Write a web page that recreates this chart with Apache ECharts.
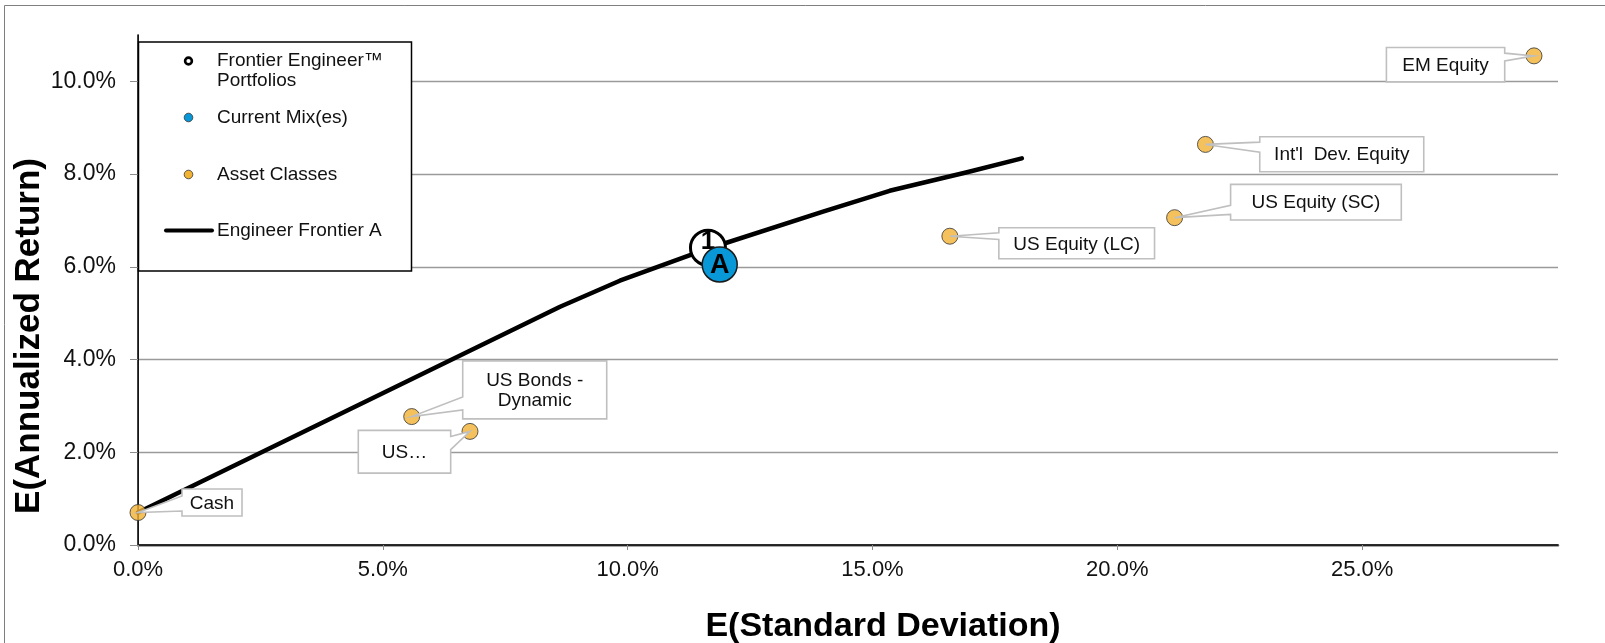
<!DOCTYPE html>
<html>
<head>
<meta charset="utf-8">
<script src="https://cdn.jsdelivr.net/npm/echarts@6/dist/echarts.min.js"></script>
<style>
  html, body { margin: 0; padding: 0; background: #fff; }
  #chart { width: 1605px; height: 643px; }
</style>
</head>
<body>
<div id="chart"></div>
<script>
// Asset classes: expected risk (std. dev., %) and expected return (%)
const assetNames = ['Cash', 'US Bonds -\nDynamic', 'US\u2026', 'US Equity (LC)', 'US Equity (SC)', "Int'l  Dev. Equity", 'EM Equity'];
const assetRisk = [0.00, 5.59, 6.78, 16.58, 21.17, 21.80, 28.51];
const assetReturn = [0.70, 2.77, 2.45, 6.66, 7.06, 8.64, 10.55];

// Engineer Frontier A (risk %, return %)
const frontierRisk = [0.00, 8.62, 9.84, 11.64, 13.99, 15.35, 16.93, 18.05];
const frontierReturn = [0.70, 5.14, 5.70, 6.39, 7.19, 7.64, 8.04, 8.34];

// Frontier Engineer portfolio(s)
const portfolioLabels = ['1'];
const portfolioRisk = [11.64];
const portfolioReturn = [6.41];

// Current mix(es)
const currentLabels = ['A'];
const currentRisk = [11.88];
const currentReturn = [6.05];

// Axis ranges (%)
const xMax = 29, xStep = 5;
const yMax = 11, yStep = 2;

const FONT = '"Liberation Sans", Arial, sans-serif';
const ORANGE = '#F2B233';
const BLUE = '#0898D8';

// Callout boxes for the asset labels: offset of the box from the marker (px),
// box size, which side carries the pointer, and where the pointer meets that side.
const calloutBoxes = [
  { dx: 44, dy: -23.5, w: 60, h: 27, side: 'left', a: 7, b: 22 },
  { dx: 51, dy: -55.7, w: 144, h: 58, side: 'left', a: 36, b: 49 },
  { dx: -111.7, dy: -1, w: 92.4, h: 42.7, side: 'right', a: 6, b: 19.3 },
  { dx: 49, dy: -8.4, w: 155.7, h: 31, side: 'left', a: 5, b: 11.7 },
  { dx: 56, dy: -33.3, w: 170.7, h: 35.7, side: 'left', a: 21, b: 30 },
  { dx: 54.3, dy: -7.7, w: 164, h: 35, side: 'left', a: 5.4, b: 15.4 },
  { dx: -147.6, dy: -8.4, w: 118.3, h: 34.4, side: 'right', a: 5.7, b: 13.4 }
];

const zip = (xs, ys) => xs.map((x, i) => [x, ys[i]]);
const pct = v => v.toFixed(1) + '%';

const chart = echarts.init(document.getElementById('chart'), null, { renderer: 'canvas' });

// Legend box drawn on top of the plot
const LZ = 100;
const legendText = (y, text) => ({
  type: 'text', x: 217, y: y, z: LZ + 2,
  style: { text: text, font: '19px ' + FONT, fill: '#111', verticalAlign: 'middle' }
});
const legendItems = [
  { type: 'rect', z: LZ, shape: { x: 138.5, y: 42, width: 273, height: 229 }, style: { fill: '#fff', stroke: '#000', lineWidth: 1.5 } },
  { type: 'circle', z: LZ + 1, shape: { cx: 188.5, cy: 61, r: 3.4 }, style: { fill: '#fff', stroke: '#000', lineWidth: 2.6 } },
  { type: 'circle', z: LZ + 1, shape: { cx: 188.5, cy: 117.5, r: 4.3 }, style: { fill: BLUE, stroke: '#333', lineWidth: 0.8 } },
  { type: 'circle', z: LZ + 1, shape: { cx: 188.5, cy: 174.5, r: 4.3 }, style: { fill: ORANGE, stroke: '#333', lineWidth: 0.8 } },
  { type: 'line', z: LZ + 1, shape: { x1: 166, y1: 230.5, x2: 212, y2: 230.5 }, style: { stroke: '#000', lineWidth: 4, lineCap: 'round' } },
  legendText(61, 'Frontier Engineer\u2122'),
  legendText(81, 'Portfolios'),
  legendText(117.5, 'Current Mix(es)'),
  legendText(174.5, 'Asset Classes'),
  legendText(230.5, 'Engineer Frontier A')
];

const option = {
  backgroundColor: '#fff',
  animation: false,
  textStyle: { fontFamily: FONT },
  grid: { left: 138, right: 47, top: 35, bottom: 98, containLabel: false },
  xAxis: [
    {
      type: 'value', min: 0, max: xMax, interval: xStep,
      axisLine: { show: true, onZero: false, lineStyle: { color: '#8c8c8c', width: 2.5 } },
      axisTick: { show: true, length: 5, lineStyle: { color: '#8c8c8c', width: 1 } },
      axisLabel: { formatter: pct, fontSize: 22, color: '#111', margin: 14, fontFamily: FONT, showMaxLabel: false },
      splitLine: { show: false }
    },
    {
      type: 'value', position: 'top', min: 0, max: xMax,
      axisLine: { show: true, lineStyle: { color: '#000', width: 1.5 } },
      axisTick: { show: false }, axisLabel: { show: false }, splitLine: { show: false }
    }
  ],
  yAxis: [
    {
      type: 'value', min: 0, max: yMax, interval: yStep,
      axisLine: { show: true, onZero: false, lineStyle: { color: '#595959', width: 1 } },
      axisTick: { show: true, length: 8, lineStyle: { color: '#8c8c8c', width: 1 } },
      axisLabel: { formatter: pct, fontSize: 23, color: '#111', margin: 22, fontFamily: FONT, showMaxLabel: false },
      splitLine: { show: true, showMinLine: false, showMaxLine: false, lineStyle: { color: '#9a9a9a', width: 1.3 } }
    },
    {
      type: 'value', position: 'right', min: 0, max: yMax,
      axisLine: { show: true, lineStyle: { color: '#000', width: 1.5 } },
      axisTick: { show: false }, axisLabel: { show: false }, splitLine: { show: false }
    }
  ],
  series: [
    {
      name: 'Engineer Frontier A',
      type: 'line',
      data: zip(frontierRisk, frontierReturn),
      showSymbol: false,
      symbol: 'none',
      lineStyle: { color: '#000', width: 4.5, cap: 'round', join: 'round' },
      z: 2
    },
    {
      name: 'Asset Classes',
      type: 'scatter',
      data: zip(assetRisk, assetReturn),
      symbolSize: 16,
      itemStyle: { color: ORANGE, borderColor: '#333', borderWidth: 1 },
      z: 3
    },
    {
      name: 'Asset Callouts',
      type: 'custom',
      data: zip(assetRisk, assetReturn),
      encode: { x: 0, y: 1 },
      z: 4,
      silent: true,
      renderItem: function (params, api) {
        const i = params.dataIndex;
        const p = api.coord([api.value(0), api.value(1)]);
        const c = calloutBoxes[i];
        const x0 = p[0] + c.dx, y0 = p[1] + c.dy;
        const x1 = x0 + c.w, y1 = y0 + c.h;
        let pts;
        if (c.side === 'left') {
          pts = [[x0, y0], [x1, y0], [x1, y1], [x0, y1], [x0, y0 + c.b], [p[0], p[1]], [x0, y0 + c.a]];
        } else {
          pts = [[x0, y0], [x1, y0], [x1, y0 + c.a], [p[0], p[1]], [x1, y0 + c.b], [x1, y1], [x0, y1]];
        }
        return {
          type: 'group',
          children: [
            { type: 'polygon', shape: { points: pts }, style: { fill: '#fff', stroke: '#bfbfbf', lineWidth: 1.6 } },
            {
              type: 'text', x: (x0 + x1) / 2, y: (y0 + y1) / 2 + 1,
              style: { text: assetNames[i], fill: '#111', font: '19px ' + FONT, align: 'center', verticalAlign: 'middle', lineHeight: 20 }
            }
          ]
        };
      }
    },
    {
      name: 'Frontier Engineer\u2122 Portfolios',
      type: 'scatter',
      data: zip(portfolioRisk, portfolioReturn),
      symbolSize: 35,
      itemStyle: { color: '#fff', borderColor: '#000', borderWidth: 3, opacity: 1 },
      label: {
        show: true, position: 'inside', offset: [0, -6],
        formatter: p => portfolioLabels[p.dataIndex],
        fontSize: 26, fontWeight: 'bold', color: '#000', fontFamily: FONT,
        textBorderWidth: 0
      },
      z: 5
    },
    {
      name: 'Current Mix(es)',
      type: 'scatter',
      data: zip(currentRisk, currentReturn),
      symbolSize: 35,
      itemStyle: { color: BLUE, borderColor: '#1a1a1a', borderWidth: 1.5, opacity: 1 },
      label: {
        show: true, position: 'inside', offset: [0, 1],
        formatter: p => currentLabels[p.dataIndex],
        fontSize: 27, fontWeight: 'bold', color: '#000', fontFamily: FONT,
        textBorderWidth: 0
      },
      z: 6
    }
  ],
  graphic: [
    // outer frame
    { type: 'rect', shape: { x: 4.5, y: 5.5, width: 1700, height: 800 }, style: { fill: null, stroke: '#7f7f7f', lineWidth: 1 }, z: 0, silent: true },
    // axis titles
    {
      type: 'text', x: 29, y: 336, rotation: Math.PI / 2, z: 10,
      style: { text: 'E(Annualized Return)', font: 'bold 35px ' + FONT, fill: '#000', align: 'center', verticalAlign: 'middle' }
    },
    {
      type: 'text', x: 883, y: 627, z: 10,
      style: { text: 'E(Standard Deviation)', font: 'bold 34px ' + FONT, fill: '#000', align: 'center', verticalAlign: 'middle' }
    }
  ].concat(legendItems)
};

chart.setOption(option);
</script>
</body>
</html>
